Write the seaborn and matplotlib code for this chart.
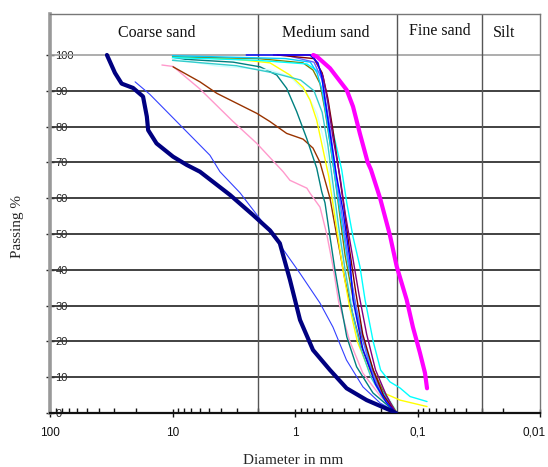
import matplotlib
matplotlib.use("Agg")
import matplotlib.pyplot as plt
import matplotlib.transforms as mtransforms
import seaborn as sns
from matplotlib.ticker import FixedLocator, FixedFormatter, LogLocator, NullFormatter

# Grain size distribution curves: diameter (mm) vs. passing (%)
navy_d = [34.3, 29.5, 26.0, 21.0, 17.4, 16.2, 15.8, 13.5, 9.9, 7.66, 5.97, 3.39, 2.2, 1.6, 1.33, 1.10, 0.91, 0.713, 0.518, 0.379, 0.26, 0.168, 0.15]
navy_p = [100, 95, 92, 90.8, 88.4, 82.8, 79, 75.3, 71.6, 69.3, 67.4, 60.9, 55.3, 51, 47.4, 37.2, 26, 17.6, 12, 6.9, 3.6, 0.8, 0]

bluethin_d = [20.2, 15.3, 8.2, 4.95, 4.1, 2.81, 1.33, 0.91, 0.625, 0.49, 0.38, 0.279, 0.202, 0.158]
bluethin_p = [92.5, 89, 79.6, 72, 67.4, 61.5, 47, 39, 30.7, 24, 14.8, 7.3, 2.8, 0.8]

pink_d = [12.2, 9.9, 5.97, 3.2, 2.05, 1.25, 1.10, 0.80, 0.754, 0.625, 0.551, 0.49, 0.44, 0.36, 0.28, 0.20, 0.153]
pink_p = [97.2, 96.8, 90.5, 81.4, 75.3, 67.4, 65, 62.8, 61.4, 57.5, 50, 41, 31, 20.4, 11.2, 4.6, 0.5]

brown_d = [9.9, 5.97, 4.35, 2.05, 1.6, 1.17, 0.86, 0.713, 0.625, 0.569, 0.518, 0.47, 0.43, 0.39, 0.34, 0.29, 0.23, 0.19, 0.153]
brown_p = [96.7, 92.5, 89.3, 83.7, 81.4, 78.1, 76.5, 74, 70, 65, 60, 52, 45, 37, 28, 19, 10, 4.5, 0]

teal_d = [10, 3.2, 1.93, 1.41, 1.17, 0.969, 0.803, 0.665, 0.605, 0.569, 0.518, 0.472, 0.429, 0.378, 0.314, 0.231, 0.158, 0.15]
teal_p = [99, 98, 96.7, 94.4, 90.7, 84.2, 76.7, 68.4, 61.8, 58.7, 49.2, 40, 31.6, 21.3, 12.9, 5.6, 0.8, 0]

yellow_d = [10, 3.0, 1.6, 1.1, 0.86, 0.754, 0.665, 0.59, 0.53, 0.45, 0.406, 0.36, 0.31, 0.25, 0.186, 0.139, 0.0836]
yellow_p = [99.5, 98.8, 97.8, 94.4, 91, 87.4, 81.8, 73.5, 66, 50, 40, 30, 20, 12, 5.5, 3.6, 1.8]

palecyan_d = [10, 4.5, 1.6, 1.1, 0.80, 0.665, 0.59, 0.538, 0.49, 0.43, 0.38, 0.32, 0.27, 0.21, 0.17, 0.15]
palecyan_p = [99, 97, 95.8, 94, 89.3, 83.7, 77.2, 70.7, 60, 48, 38, 27, 17, 9, 4, 1]

olive_d = [10, 2.0, 0.86, 0.713, 0.625, 0.569, 0.518, 0.472, 0.43, 0.39, 0.34, 0.29, 0.23, 0.19, 0.15]
olive_p = [99.5, 99, 97.8, 95.8, 92, 84.6, 75.4, 66, 55, 44, 33, 22, 12, 6, 0.5]

blue_d = [2.5, 0.754, 0.649, 0.605, 0.569, 0.518, 0.457, 0.406, 0.356, 0.336, 0.28, 0.22, 0.18, 0.155]
blue_p = [100, 100, 97.8, 94, 87.4, 78.1, 66, 56.7, 42.7, 31.6, 18, 8, 3, 0.5]

purple_d = [1.5, 0.713, 0.59, 0.538, 0.49, 0.429, 0.39, 0.34, 0.30, 0.26, 0.22, 0.18, 0.15]
purple_p = [100, 100, 94, 86.6, 77, 66, 56, 44, 33, 22, 12, 5, 0]

darkred_d = [1.4, 0.7, 0.6, 0.54, 0.49, 0.44, 0.40, 0.36, 0.32, 0.28, 0.23, 0.19, 0.15]
darkred_p = [100, 99, 95, 88, 79, 68, 58, 46, 34, 22, 12, 5, 0]

cyan_d = [10, 2.0, 0.8, 0.62, 0.56, 0.5, 0.416, 0.378, 0.336, 0.295, 0.268, 0.23, 0.2, 0.168, 0.139, 0.115, 0.0836]
cyan_p = [99.3, 98.5, 97.5, 95, 90, 80, 68, 58.7, 49.2, 40.9, 31.6, 20, 12, 8.7, 7, 4.6, 3.2]

turquoise_d = [10, 3, 1.5, 0.9, 0.7, 0.6, 0.54, 0.49, 0.44, 0.39, 0.34, 0.29, 0.24, 0.19, 0.155]
turquoise_p = [98.5, 97, 95, 93, 90, 84, 75, 64, 52, 40, 28, 18, 10, 4, 0.5]

skyblue_d = [10, 1.2, 0.75, 0.66, 0.6, 0.55, 0.5, 0.45, 0.41, 0.37, 0.32, 0.27, 0.22, 0.17, 0.15]
skyblue_p = [99.8, 99, 98, 95, 90, 82, 72, 61, 52, 42, 30, 19, 9, 3, 0]

periwinkle_d = [1.2, 0.7, 0.6, 0.52, 0.46, 0.40, 0.35, 0.30, 0.25, 0.20, 0.16, 0.15]
periwinkle_p = [100, 98, 93, 80, 66, 52, 38, 25, 14, 6, 1, 0]

magenta_d = [0.71, 0.665, 0.518, 0.378, 0.336, 0.295, 0.255, 0.24, 0.202, 0.168, 0.148, 0.1225, 0.109, 0.0955, 0.0869, 0.0836]
magenta_p = [100, 99.6, 96.3, 90.2, 85.6, 78, 70, 68, 60, 49.7, 41, 31.6, 24, 16.8, 11.2, 6.9]

# Soil fraction boundaries (mm) and header labels
fraction_bounds = [2.0, 0.148, 0.03]
fraction_names = ["Coarse sand", "Medium sand", "Fine sand", "Silt"]
fraction_label_x = [13.4, 0.56, 0.0655, 0.0196]

x_major = [100, 10, 1, 0.1, 0.01]
x_major_labels = ["100", "10", "1", "0,1", "0,01"]
y_ticks = list(range(0, 101, 10))

sns.set_style("white")
plt.rcParams['font.family'] = ['Liberation Serif', 'DejaVu Serif']

fig = plt.figure(figsize=(5.48, 4.67), dpi=100)
ax = fig.add_axes([50 / 548, 54 / 467, 490 / 548, 399 / 467])

ax.set_xscale("log")
ax.set_xlim(100, 0.01)
ax.set_ylim(0, 111.45)

# grid and fraction separators
for y in y_ticks[1:-1]:
    ax.axhline(y, color="#333333", lw=1.3, zorder=1)
ax.axhline(100, color="#a0a0a0", lw=1.2, zorder=1)
for b in fraction_bounds:
    ax.axvline(b, color="#555555", lw=1.0, zorder=1)

for name, xd in zip(fraction_names, fraction_label_x):
    yy = 106.7 if name == "Fine sand" else 106.1
    ax.text(xd, yy, name, ha="center", va="center", fontsize=11.5, color="#111111")

curves = [
    (bluethin_d, bluethin_p, "#3340ff", 0.8),
    (pink_d, pink_p, "#ff99cc", 1.0),
    (brown_d, brown_p, "#993300", 1.0),
    (teal_d, teal_p, "#008080", 1.0),
    (palecyan_d, palecyan_p, "#ccffff", 1.0),
    (yellow_d, yellow_p, "#ffff00", 1.0),
    (olive_d, olive_p, "#808000", 1.0),
    (turquoise_d, turquoise_p, "#33cccc", 1.0),
    (cyan_d, cyan_p, "#00ffff", 1.0),
    (skyblue_d, skyblue_p, "#00ccff", 1.0),
    (periwinkle_d, periwinkle_p, "#6666ff", 1.0),
    (darkred_d, darkred_p, "#800000", 1.0),
    (purple_d, purple_p, "#800080", 1.0),
    (blue_d, blue_p, "#0000ff", 1.0),
    (magenta_d, magenta_p, "#ff00ff", 3.0),
    (navy_d, navy_p, "#000080", 3.0),
]
for d, p, c, lw in curves:
    sns.lineplot(x=d, y=p, ax=ax, color=c, linewidth=lw, sort=False,
                 estimator=None, legend=False, zorder=3)

ax.set_xlabel("")
ax.set_ylabel("")

# ticks
ax.xaxis.set_major_locator(FixedLocator(x_major))
ax.xaxis.set_major_formatter(FixedFormatter(x_major_labels))
ax.xaxis.set_minor_locator(LogLocator(base=10, subs=range(2, 10)))
ax.xaxis.set_minor_formatter(NullFormatter())
ax.tick_params(axis="x", which="major", direction="inout", length=6, width=1,
               pad=7, labelsize=8.5, colors="#111111")
ax.tick_params(axis="x", which="minor", direction="in", length=3.5, width=1,
               color="#111111")
ax.tick_params(axis="x", which="both", bottom=True, top=False)

ax.set_yticks(y_ticks)
ax.set_yticklabels([str(v) for v in y_ticks])
ax.tick_params(axis="y", which="major", direction="inout", length=6, width=1,
               pad=-7.0, labelsize=8, labelcolor="#222222", left=True, right=False)
for lbl in ax.get_xticklabels() + ax.get_yticklabels():
    lbl.set_fontfamily(["Liberation Sans", "DejaVu Sans"])
for lbl in ax.get_yticklabels():
    lbl.set_horizontalalignment("left")

# keep the last x label inside the figure edge
last_lbl = ax.get_xticklabels()[-1]
last_lbl.set_transform(last_lbl.get_transform() +
                       mtransforms.ScaledTranslation(-6 / 100, 0, fig.dpi_scale_trans))

for side in ["top", "right"]:
    ax.spines[side].set_color("#777777")
    ax.spines[side].set_linewidth(1.0)
ax.spines["left"].set_color("#999999")
ax.spines["left"].set_linewidth(2.6)
ax.spines["bottom"].set_color("#111111")
ax.spines["bottom"].set_linewidth(1.6)

fig.text(18 / 548, 1 - 226 / 467, "Passing %", rotation=90, ha="center",
         va="center", fontsize=11)
fig.text(293 / 548, 1 - 460 / 467, "Diameter in mm", ha="center",
         va="center", fontsize=11)

fig.savefig("out.png", dpi=100)
